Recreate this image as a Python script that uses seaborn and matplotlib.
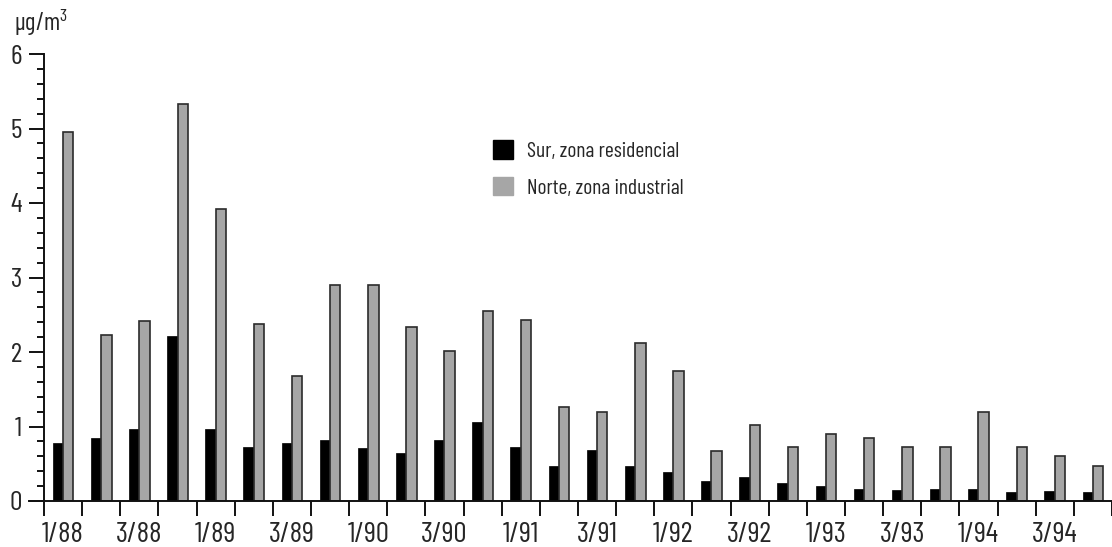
import numpy as np
import pandas as pd
import matplotlib
matplotlib.use("Agg")
import matplotlib.pyplot as plt
import seaborn as sns
from matplotlib.patches import Patch

# Trimestres 1988-1994
anios = ["88", "89", "90", "91", "92", "93", "94"]
trimestres = [f"{q}/{a}" for a in anios for q in range(1, 5)]

serie_sur = "Sur, zona residencial"
serie_norte = "Norte, zona industrial"

sur = [0.78, 0.85, 0.97, 2.21, 0.97, 0.72, 0.78, 0.82, 0.71, 0.64,
       0.82, 1.06, 0.72, 0.47, 0.68, 0.47, 0.39, 0.27, 0.32, 0.24,
       0.20, 0.16, 0.15, 0.16, 0.16, 0.12, 0.13, 0.12]
norte = [4.95, 2.23, 2.41, 5.33, 3.92, 2.38, 1.68, 2.90, 2.90, 2.34,
         2.01, 2.55, 2.43, 1.26, 1.19, 2.12, 1.74, 0.67, 1.02, 0.73,
         0.90, 0.84, 0.72, 0.73, 1.20, 0.72, 0.61, 0.47]

unidad = r"$\mathregular{µg/m^3}$"

df = pd.DataFrame({
    "periodo": trimestres * 2,
    "zona": [serie_sur] * len(sur) + [serie_norte] * len(norte),
    "valor": sur + norte,
})

NEGRO = "#000000"
GRIS = "#a6a6a6"
BORDE = "#2b2b2b"
EJE = "#111111"

sns.set_style("white")
plt.rcParams["font.family"] = ["Barlow Condensed", "DejaVu Sans"]
plt.rcParams["mathtext.fontset"] = "custom"
plt.rcParams["mathtext.rm"] = "Barlow Condensed"
plt.rcParams["mathtext.it"] = "Barlow Condensed"

W, H = 1112, 547
fig = plt.figure(figsize=(W / 100, H / 100), dpi=100)
ax = fig.add_axes([44 / W, 1 - 501 / H, 1 - 44 / W, (501 - 54) / H])

sns.barplot(data=df, x="periodo", y="valor", hue="zona",
            order=trimestres, hue_order=[serie_sur, serie_norte],
            palette=[NEGRO, GRIS], saturation=1, width=0.54, gap=0,
            errorbar=None, legend=False, ax=ax)

for p in ax.patches:
    fc = p.get_facecolor()
    if fc[0] > 0.3:
        p.set_edgecolor(BORDE)
        p.set_linewidth(1.2)
    else:
        p.set_edgecolor(NEGRO)
        p.set_linewidth(0.5)

ax.set_xlim(-0.5, (W - 44) / 38.5 - 0.5)
ax.set_ylim(0, 6)
ax.set_xlabel("")
ax.set_ylabel("")

for s in ("top", "right"):
    ax.spines[s].set_visible(False)
for s in ("left", "bottom"):
    ax.spines[s].set_linewidth(1.4)
    ax.spines[s].set_color(EJE)
ax.spines["bottom"].set_bounds(-0.5 - 15 / 38.5, 30)

# Eje Y: marcas mayores cada 1, menores cada 0.2
ax.set_yticks(np.arange(0, 7, 1))
ax.set_yticks(np.arange(0, 6.01, 0.2), minor=True)
ax.set_yticklabels([str(i) for i in range(7)])
ax.tick_params(axis="y", which="major", length=10.8, width=1.4,
               direction="out", color=EJE, labelsize=20, pad=5,
               left=True)
ax.tick_params(axis="y", which="minor", length=5.2, width=1.4,
               direction="out", color=EJE, left=True)

# Eje X: marcas entre grupos, etiquetas centradas cada dos trimestres
pos = np.arange(len(trimestres))
ax.set_xticks(np.append(pos - 0.5, pos[-1] + 0.5))
ax.set_xticklabels([""] * (len(trimestres) + 1))
ax.set_xticks(pos[::2], minor=True)
ax.set_xticklabels(trimestres[::2], minor=True)
ax.tick_params(axis="x", which="major", length=10.8, width=1.4,
               direction="out", color=EJE, bottom=True)
ax.tick_params(axis="x", which="minor", length=0, labelsize=21, pad=15,
               bottom=True)

fig.text(14 / W, 1 - 38 / H, unidad, fontsize=18, ha="left", va="bottom")

handles = [Patch(facecolor=NEGRO, edgecolor=NEGRO),
           Patch(facecolor=GRIS, edgecolor=GRIS)]
ax.legend(handles, [serie_sur, serie_norte], frameon=False,
          loc="upper left", bbox_to_anchor=(493 / W, 1 - 140 / H),
          bbox_transform=fig.transFigure, borderaxespad=0, borderpad=0,
          fontsize=15.5, handlelength=0.95, handleheight=0.95,
          handletextpad=0.65, labelspacing=0.75)

fig.savefig("out.png", dpi=100)
